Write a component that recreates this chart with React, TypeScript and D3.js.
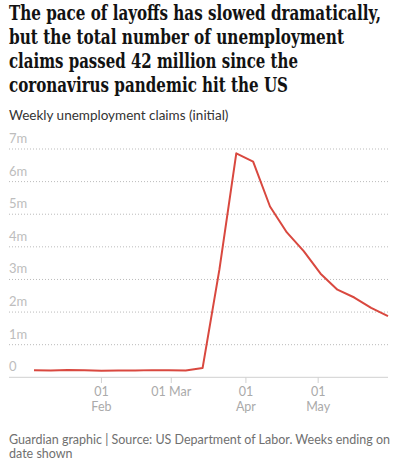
import React, { useLayoutEffect, useRef, useState } from "react";
import * as d3 from "d3";

const titleLines = [
  "The pace of layoffs has slowed dramatically,",
  "but the total number of unemployment",
  "claims passed 42 million since the",
  "coronavirus pandemic hit the US",
];
const subtitle = "Weekly unemployment claims (initial)";
const footerLines = [
  "Guardian graphic | Source: US Department of Labor. Weeks ending on",
  "date shown",
];

const weekEnding = [
  "2020-01-04", "2020-01-11", "2020-01-18", "2020-01-25", "2020-02-01",
  "2020-02-08", "2020-02-15", "2020-02-22", "2020-02-29", "2020-03-07",
  "2020-03-14", "2020-03-21", "2020-03-28", "2020-04-04", "2020-04-11",
  "2020-04-18", "2020-04-25", "2020-05-02", "2020-05-09", "2020-05-16",
  "2020-05-23", "2020-05-30",
];
const claims = [
  214000, 207000, 223000, 217000, 203000,
  206000, 211000, 220000, 217000, 211000,
  282000, 3307000, 6867000, 6615000, 5237000,
  4442000, 3867000, 3176000, 2687000, 2446000,
  2126000, 1877000,
];
const yTicks = [0, 1e6, 2e6, 3e6, 4e6, 5e6, 6e6, 7e6];
const yTickLabels = ["0", "1m", "2m", "3m", "4m", "5m", "6m", "7m"];
const xTicks = ["2020-02-01", "2020-03-01", "2020-04-01", "2020-05-01"];
const xTickLabels = [["01", "Feb"], ["01 Mar"], ["01", "Apr"], ["01", "May"]];

const W = 395;
const H = 464;
const left = 9;
const right = 388;

export default function App() {
  const parse = d3.timeParse("%Y-%m-%d");
  const dates = weekEnding.map((d) => parse(d) as Date);
  const x = d3
    .scaleTime()
    .domain([dates[0], dates[dates.length - 1]])
    .range([34, 388]);
  const y = d3.scaleLinear().domain([0, 7e6]).range([377.3, 149]);
  const line = d3
    .line<number>()
    .x((_, i) => x(dates[i]))
    .y((v) => y(v));
  const pts = claims;
  const sans = "Lato, 'Open Sans', sans-serif";
  const titleWidths = [372, 335, 289, 279];
  const titleRefs = useRef<(SVGTextElement | null)[]>([]);
  const [scales, setScales] = useState<number[]>([0.85, 0.85, 0.85, 0.85]);

  useLayoutEffect(() => {
    const s = titleRefs.current.map((el, i) => {
      if (!el) return 0.85;
      const w = el.getComputedTextLength();
      return w > 0 ? titleWidths[i] / w : 0.85;
    });
    setScales(s);
  }, []);

  return (
    <div style={{ position: "fixed", left: 0, top: 0, width: W, height: H, background: "#fff" }}>
      <svg width={W} height={H} style={{ display: "block" }}>
        {titleLines.map((t, i) => (
          <g key={i} transform={`translate(9,${20 + i * 24}) scale(${scales[i]},1)`}>
            <text
              ref={(el) => {
                titleRefs.current[i] = el;
              }}
              x={0}
              y={0}
              fontFamily="'DejaVu Serif', serif"
              fontWeight={700}
              fontSize={20}
              fill="#121212"
            >
              {t}
            </text>
          </g>
        ))}
        <text x={9} y={120} fontFamily={sans} fontSize={13.5} fill="#333">
          {subtitle}
        </text>
        {yTicks.map((v, i) => (
          <g key={v}>
            {v === 0 ? (
              <line x1={left} x2={right} y1={y(v)} y2={y(v)} stroke="#d0d0d0" strokeWidth={1} />
            ) : (
              <line
                x1={left}
                x2={right}
                y1={y(v)}
                y2={y(v)}
                stroke="#bbb"
                strokeWidth={1}
                strokeDasharray="1,2"
              />
            )}
            <text x={left} y={y(v) - 6} fontFamily={sans} fontSize={13} fill="#bdbdbd">
              {yTickLabels[i]}
            </text>
          </g>
        ))}
        {xTicks.map((d, i) => {
          const xx = x(parse(d) as Date);
          return (
            <g key={d}>
              <line x1={xx} x2={xx} y1={377.3} y2={383} stroke="#d0d0d0" />
              {xTickLabels[i].map((s, j) => (
                <text
                  key={j}
                  x={xx}
                  y={396 + j * 14.5}
                  textAnchor="middle"
                  fontFamily={sans}
                  fontSize={12.5}
                  fill="#aaa"
                >
                  {s}
                </text>
              ))}
            </g>
          );
        })}
        <path d={line(pts) || ""} fill="none" stroke="#d9483f" strokeWidth={2} strokeLinejoin="round" />
        {footerLines.map((t, i) => (
          <text key={i} x={9} y={444 + i * 14} fontFamily={sans} fontSize={12.5} fill="#707070">
            {t}
          </text>
        ))}
      </svg>
    </div>
  );
}
